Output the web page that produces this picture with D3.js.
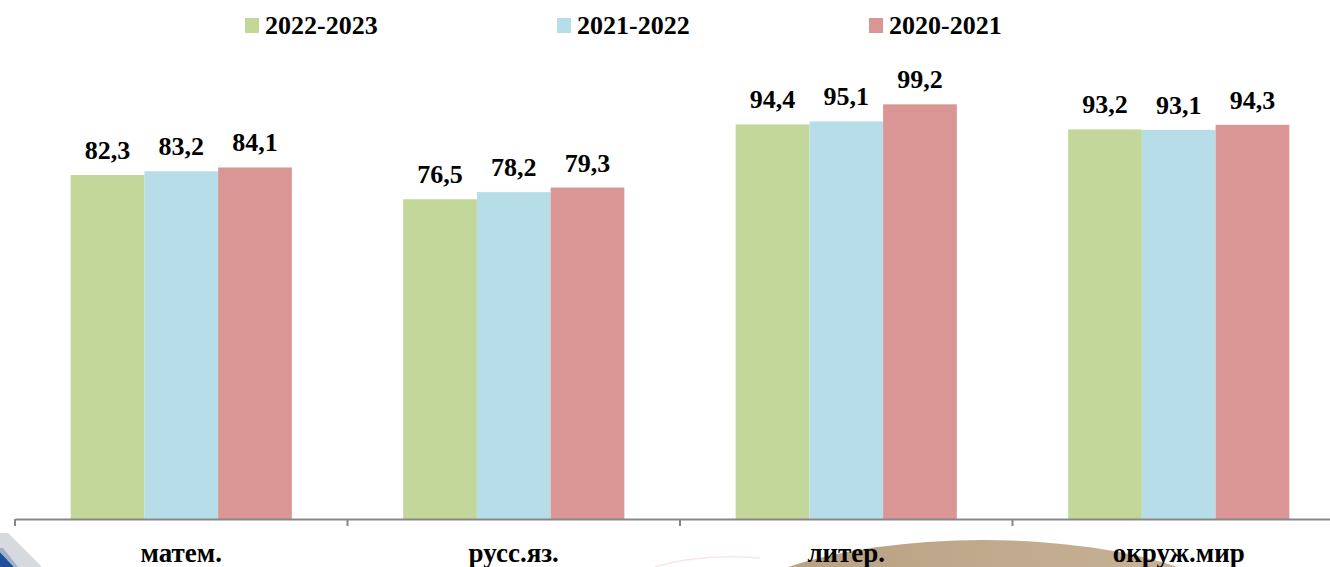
<!DOCTYPE html>
<html>
<head>
<meta charset="utf-8">
<script src="https://cdn.jsdelivr.net/npm/d3@7"></script>
<style>
html,body{margin:0;padding:0;background:#fff;}
svg{display:block;}
</style>
</head>
<body>
<svg id="chart" width="1330" height="567" font-family="'Liberation Serif', 'DejaVu Serif', serif" font-weight="bold"></svg>
<script>
const categories = ["матем.", "русс.яз.", "литер.", "окруж.мир"];
const seriesNames = ["2022-2023", "2021-2022", "2020-2021"];
const values2022_2023 = [82.3, 76.5, 94.4, 93.2];
const values2021_2022 = [83.2, 78.2, 95.1, 93.1];
const values2020_2021 = [84.1, 79.3, 99.2, 94.3];
const seriesColors = ["#c4d79b", "#b7dee8", "#da9694"];

const seriesValues = [values2022_2023, values2021_2022, values2020_2021];
const svg = d3.select("#chart");
const FONT = "Liberation Serif";

// background decoration (slide background fragments)
const defs = svg.append("defs");
const g1 = defs.append("linearGradient").attr("id","tan").attr("x1","0").attr("y1","0").attr("x2","1").attr("y2","0");
g1.append("stop").attr("offset","0%").attr("stop-color","#b59d7f");
g1.append("stop").attr("offset","60%").attr("stop-color","#c2ab8e");
g1.append("stop").attr("offset","100%").attr("stop-color","#c9b59c");
svg.append("ellipse").attr("cx",983).attr("cy",640).attr("rx",285).attr("ry",100).attr("fill","url(#tan)");
svg.append("path").attr("d","M655,567 Q700,553 760,558").attr("fill","none").attr("stroke","#f7e8e8").attr("stroke-width",1.5);
svg.append("path").attr("d","M0,533 L8,533 L42,567 L0,567 Z").attr("fill","#d6d9de");
svg.append("path").attr("d","M0,552 L14,567 L0,567 Z").attr("fill","#1f4f9a");
svg.append("path").attr("d","M0,548 L3,548 L18,567 L14,567 L0,552 Z").attr("fill","#9fb0c8");

const baseY = 519;
const x = d3.scaleBand().domain(categories).range([15, 1345]).padding(0);
const x1 = d3.scaleBand().domain(seriesNames).range([0, x.bandwidth()]).paddingInner(0).paddingOuter(0.755);
const y = d3.scaleLinear().domain([0, 100]).range([baseY, 101]);

const data = [];
categories.forEach((c, i) => {
  seriesNames.forEach((s, j) => {
    data.push({cat: c, ser: s, val: seriesValues[j][i], color: seriesColors[j]});
  });
});

svg.append("g").selectAll("rect").data(data).join("rect")
  .attr("x", d => x(d.cat) + x1(d.ser))
  .attr("y", d => y(d.val))
  .attr("width", x1.bandwidth())
  .attr("height", d => baseY - y(d.val))
  .attr("fill", d => d.color);

svg.append("g").selectAll("text").data(data).join("text")
  .attr("x", d => x(d.cat) + x1(d.ser) + x1.bandwidth()/2)
  .attr("y", d => y(d.val) - 16)
  .attr("text-anchor", "middle")
  .attr("font-family", FONT).attr("font-weight", "bold")
  .attr("font-size", 26)
  .text(d => d.val.toFixed(1).replace(".", ","));

// axis
const axis = d3.axisBottom(x).tickSize(0).tickFormat("");
const ag = svg.append("g").attr("transform", `translate(0,${baseY})`).call(axis);
ag.select(".domain").attr("stroke", "#878787").attr("stroke-width", 2);
const boundaries = categories.map(c => x(c)).concat([x.range()[1]]);
ag.selectAll(".bnd").data(boundaries).join("line").attr("class","bnd")
  .attr("x1", d => d).attr("x2", d => d).attr("y1", 0).attr("y2", 7)
  .attr("stroke", "#878787").attr("stroke-width", 2);

svg.append("g").selectAll("text").data(categories).join("text")
  .attr("x", d => x(d) + x.bandwidth()/2)
  .attr("y", 562)
  .attr("text-anchor", "middle")
  .attr("font-family", FONT).attr("font-weight", "bold")
  .attr("font-size", 27)
  .text(d => d);

// legend
const legendX = [245, 557, 869];
const lg = svg.append("g").selectAll("g").data(seriesNames).join("g")
  .attr("transform", (d, i) => `translate(${legendX[i]},0)`);
lg.append("rect").attr("x", 0).attr("y", 18).attr("width", 14).attr("height", 15)
  .attr("fill", (d, i) => seriesColors[i]);
lg.append("text").attr("x", 20).attr("y", 34)
  .attr("font-family", FONT).attr("font-weight", "bold")
  .attr("font-size", 26).text(d => d);
</script>
</body>
</html>
